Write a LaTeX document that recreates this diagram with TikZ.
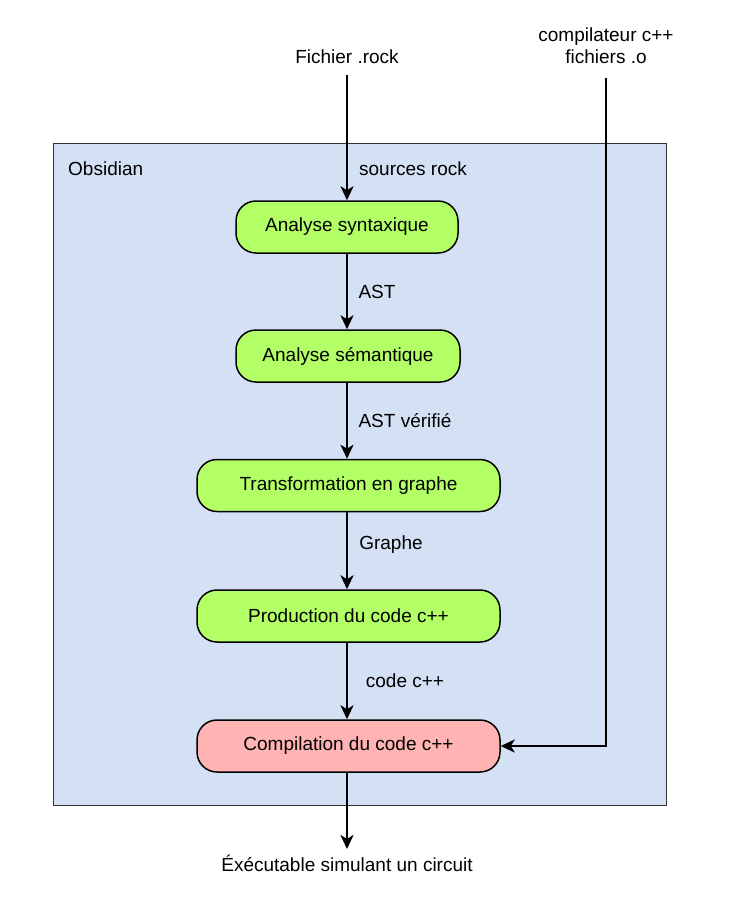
\documentclass[tikz,border=0pt]{standalone}
\usepackage{fontspec}
\setmainfont{Liberation Sans}
\usetikzlibrary{arrows.meta}
\begin{document}
\begin{tikzpicture}[x=1pt,y=-1pt,
  every node/.style={font=\fontsize{19}{22}\selectfont},
  stage/.style={draw=black, line width=1.5pt, rounded corners=20pt, minimum height=52pt, inner sep=0pt},
  okstage/.style={stage, fill=okgreen},
  endstage/.style={stage, fill=endpink},
  flow/.style={line width=2.8pt, -{Stealth[length=14pt,width=13pt,inset=4pt]}},
  lbl/.style={inner sep=0pt}]
\definecolor{okgreen}{HTML}{B3FF66}
\definecolor{endpink}{HTML}{FFB3B3}
\definecolor{boxblue}{HTML}{D4E1F5}
\definecolor{boxline}{HTML}{333333}
\useasboundingbox (0,0) rectangle (735,898);
\node[draw=boxline, line width=1pt, fill=boxblue, minimum width=613pt, minimum height=662pt, inner sep=0pt] (obs) at (359.5,474) {};
\node[lbl, anchor=west] (obslbl) at (68,169) {Obsidian};

\node[okstage, minimum width=222pt] (s1) at (347,227) {Analyse syntaxique};
\node[okstage, minimum width=224pt] (s2) at (348,356) {Analyse sémantique};
\node[okstage, minimum width=303pt] (s3) at (348.5,485.5) {Transformation en graphe};
\node[okstage, minimum width=303pt] (s4) at (348.5,616) {Production du code c++};
\node[endstage, minimum width=303pt] (s5) at (348.5,746) {Compilation du code c++};

\node[lbl] (src) at (347,57) {Fichier .rock};
\node[lbl, align=center] (cpp) at (606,46) {compilateur c++\\fichiers .o};
\node[lbl] (out) at (347,863) {Éxécutable simulant un circuit};

\coordinate (srctop) at (347,75);
\coordinate (cpptop) at (606,78);
\coordinate (corner) at (606,746);
\coordinate (outtop) at (347,849);

\draw[flow] (srctop) -- (s1.north);
\draw[flow] (s1.south) -- (s2.north -| s1.south);
\draw[flow] (s2.south -| s1.south) -- (s3.north -| s1.south);
\draw[flow] (s3.south -| s1.south) -- (s4.north -| s1.south);
\draw[flow] (s4.south -| s1.south) -- (s5.north -| s1.south);
\draw[flow] (s5.south -| s1.south) -- (outtop);
\draw[flow, line join=miter] (cpptop) -- (corner) -- (s5.east);

\node[lbl] (l0) at (413,169) {sources rock};
\node[lbl] (l1) at (377,292) {AST};
\node[lbl] (l2) at (405,421) {AST vérifié};
\node[lbl] (l3) at (391,545) {Graphe};
\node[lbl] (l4) at (405,681) {code c++};
\end{tikzpicture}
\end{document}
